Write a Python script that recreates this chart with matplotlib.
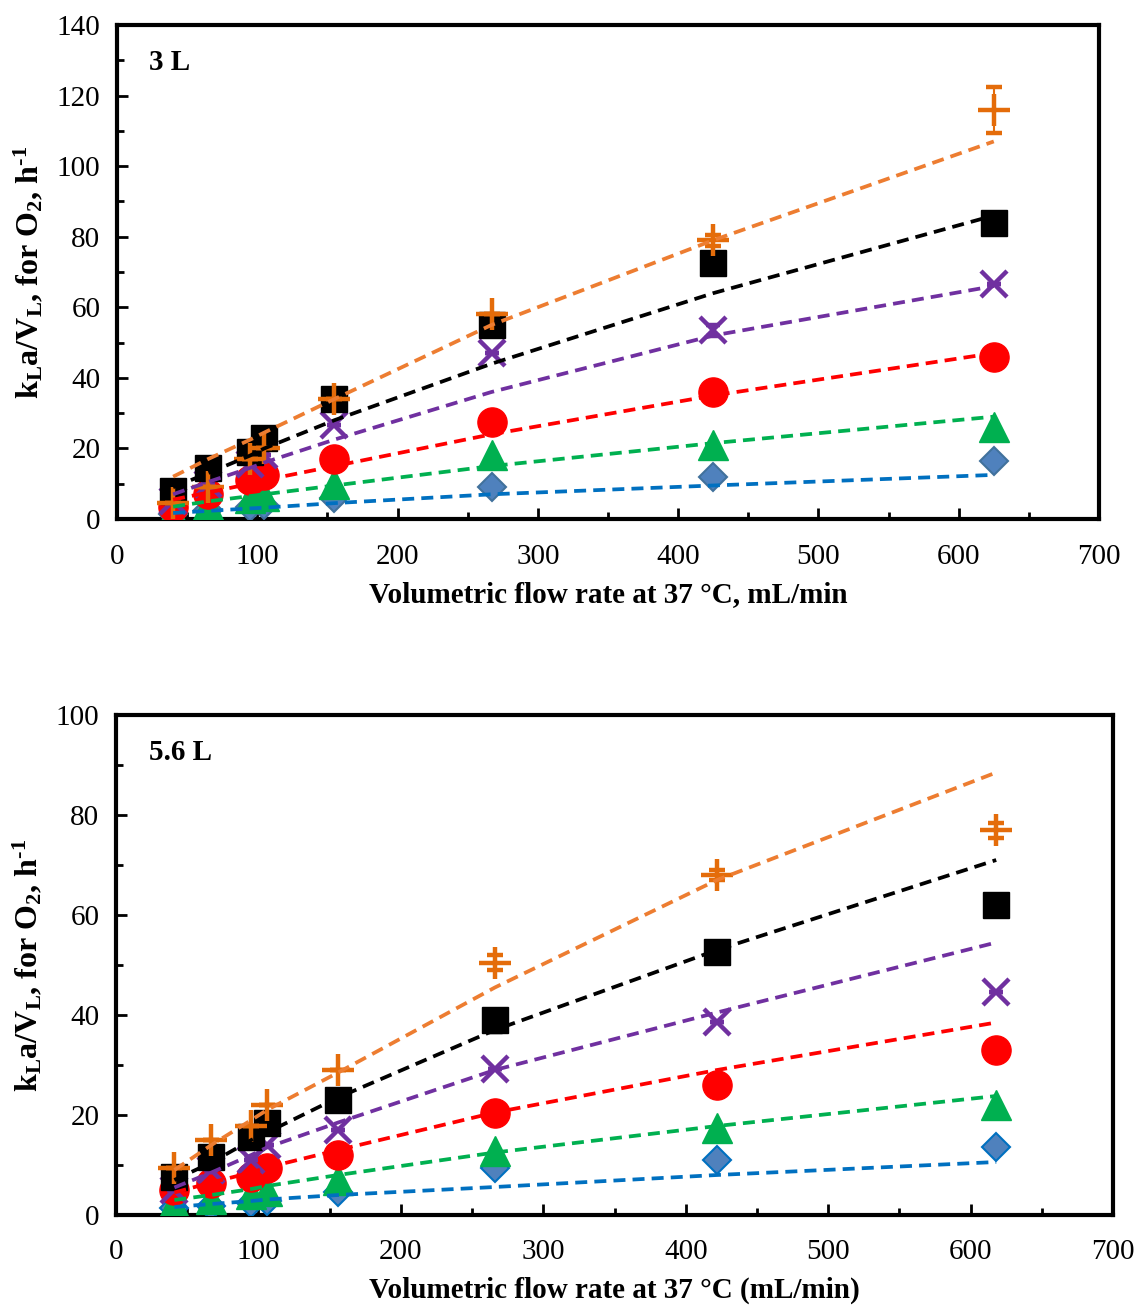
import matplotlib
matplotlib.use("Agg")
import matplotlib.pyplot as plt
import numpy as np

plt.rcParams['font.family'] = ['Liberation Serif', 'DejaVu Serif']
plt.rcParams['mathtext.fontset'] = 'custom'
plt.rcParams['mathtext.rm'] = 'Liberation Serif:bold'
plt.rcParams['mathtext.it'] = 'Liberation Serif:bold'
plt.rcParams['mathtext.bf'] = 'Liberation Serif:bold'

# ---------------- 3 L vessel ----------------
x_3L = [40, 65, 95, 105, 155, 267, 425, 625]
plus_3L = [4.5, 9, 17, 20, 34, 58, 79, 116]
plus_3L_err = [0, 0, 0, 0, 0, 0, 1.5, 6.5]
square_3L = [8, 14.5, 19, 23, 34, 55, 72.5, 84]
cross_3L = [5, 10, 15.5, 18, 26.5, 47, 53.5, 66.5]
cross_3L_err = [0, 0, 0, 0, 0, 0, 1.5, 0]
circle_3L = [3.5, 7, 11, 12.5, 17, 27.5, 36, 46]
triangle_3L = [2, 4, 6, 6.5, 10, 18, 21, 26]
diamond_3L = [1.5, 2.5, 3.5, 4, 6, 9, 12, 16.5]

fit_plus_3L = [12, 17, 22.5, 24.5, 34, 55, 79, 107]
fit_square_3L = [9, 13, 18, 20, 28, 44, 64, 86]
fit_cross_3L = [7, 10.5, 14.5, 16, 22.5, 36, 52, 66]
fit_circle_3L = [5.5, 7.5, 10, 11, 15, 24, 35, 47]
fit_triangle_3L = [3.5, 5, 6.5, 7, 9.5, 15, 21.5, 29]
fit_diamond_3L = [1.7, 2.3, 3, 3.2, 4.5, 7, 9.5, 12.5]

# ---------------- 5.6 L vessel ----------------
x_56L = [41, 67, 95, 106, 156, 266, 422, 618]
plus_56L = [9.4, 15, 17.8, 22, 29, 50.5, 68, 77]
plus_56L_err = [0, 0, 0, 0, 0, 1.5, 1, 1.5]
square_56L = [7.6, 11.6, 15.6, 18.4, 23, 39, 52.7, 62]
square_56L_err = [0, 0, 0, 0, 0, 2.5, 0, 0]
cross_56L = [5, 9, 11, 14, 17, 29.3, 38.7, 44.7]
circle_56L = [5, 6.4, 7.6, 9.4, 12, 20.4, 26, 33]
triangle_56L = [2.4, 3.2, 4.2, 4.8, 7, 12.8, 17.4, 22]
diamond_56L = [1.4, 1.8, 2.4, 2.8, 4.6, 9.4, 11, 13.6]

fit_plus_56L = [9, 14, 19, 21, 28.5, 45.5, 67, 88.5]
fit_square_56L = [7, 10.5, 15, 16.5, 23.5, 37, 53, 71]
fit_cross_56L = [5.5, 8.5, 12, 13.5, 18.5, 29, 40.5, 54.5]
fit_circle_56L = [4.5, 6.5, 8.5, 9.5, 13, 20.5, 29, 38.5]
fit_triangle_56L = [3, 4, 5.2, 5.8, 8, 12.5, 17.8, 23.8]
fit_diamond_56L = [1.6, 2.2, 2.8, 3.1, 4, 5.6, 8, 10.6]

xticks = [0, 100, 200, 300, 400, 500, 600, 700]

ORANGE_M = '#E46C0A'
ORANGE_L = '#ED7D31'
PURPLE = '#7030A0'
RED = '#FF0000'
GREEN = '#00B050'
BLUE_L = '#0070C0'
BLUE_F = '#4F81BD'

FS = 21

fig = plt.figure(figsize=(11.44, 13.06), dpi=100)
W, H = 1144, 1306


def make_ax(left, right, top, bottom):
    return fig.add_axes([left / W, 1 - bottom / H, (right - left) / W, (bottom - top) / H])


def draw(ax, x, data, fits, errs, ymax, xlabel, tag, xpad, lpad):
    diamond, triangle, circle, cross, square, plus = data
    e_plus, e_cross, e_square = errs
    ax.plot(x, diamond, linestyle='none', marker='D', ms=14, mfc=BLUE_F,
            mec=BLUE_L if tag == '5.6 L' else '#41719C', mew=1.5, zorder=3)
    ax.plot(x, triangle, linestyle='none', marker='^', ms=21, color=GREEN, zorder=4)
    ax.plot(x, circle, linestyle='none', marker='o', ms=21, color=RED, zorder=5)
    ax.errorbar(x, cross, yerr=e_cross, linestyle='none', marker='x', ms=19, mew=3.2,
                color=PURPLE, ecolor=PURPLE, elinewidth=1.5, capsize=5, zorder=6)
    ax.errorbar(x, square, yerr=e_square, linestyle='none', marker='s', ms=19,
                color='black', ecolor='black', elinewidth=1.5, capsize=5, zorder=7)
    ax.errorbar(x, plus, yerr=e_plus, linestyle='none', marker='+', ms=23, mew=3.2,
                color=ORANGE_M, ecolor=ORANGE_M, elinewidth=1.5, capsize=6, zorder=8)
    cols = [BLUE_L, GREEN, RED, PURPLE, 'black', ORANGE_L]
    for f, c in zip(fits, cols):
        ax.plot(x, f, color=c, lw=2.7, dashes=(3.2, 1.9), zorder=9)

    ax.set_xlim(0, 700)
    ax.set_ylim(0, ymax)
    ax.set_xticks(xticks)
    ax.set_xticks(np.arange(50, 700, 100), minor=True)
    ax.set_yticks(np.arange(0, ymax + 1, 20))
    ax.set_yticks(np.arange(10, ymax, 20), minor=True)
    ax.tick_params(which='both', direction='in', top=False, right=False)
    ax.tick_params(which='major', length=8, width=2, labelsize=FS, pad=12)
    ax.tick_params(which='minor', length=5, width=2)
    ax.tick_params(axis='x', which='major', pad=xpad)
    for s in ax.spines.values():
        s.set_linewidth(3)
    ax.set_xlabel(xlabel, fontsize=FS, fontweight='bold', labelpad=lpad)
    ax.set_ylabel(r'k$_\mathrm{L}$a/V$_\mathrm{L}$, for O$_\mathrm{2}$, h$^{\text{-1}}$',
                  fontsize=23, fontweight='bold', labelpad=8)
    ax.text(0.033, 0.925, tag, transform=ax.transAxes, fontsize=FS, fontweight='bold',
            ha='left', va='center')


ax1 = make_ax(117, 1099, 25, 519)
draw(ax1, x_3L,
     [diamond_3L, triangle_3L, circle_3L, cross_3L, square_3L, plus_3L],
     [fit_diamond_3L, fit_triangle_3L, fit_circle_3L, fit_cross_3L, fit_square_3L, fit_plus_3L],
     [plus_3L_err, cross_3L_err, [0] * 8], 140,
     'Volumetric flow rate at 37 °C, mL/min', '3 L', 18, 8)

ax2 = make_ax(116, 1113, 715, 1215)
draw(ax2, x_56L,
     [diamond_56L, triangle_56L, circle_56L, cross_56L, square_56L, plus_56L],
     [fit_diamond_56L, fit_triangle_56L, fit_circle_56L, fit_cross_56L, fit_square_56L, fit_plus_56L],
     [plus_56L_err, [0] * 8, square_56L_err], 100,
     'Volumetric flow rate at 37 °C (mL/min)', '5.6 L', 17, 9)

fig.savefig('out.png', dpi=100)
